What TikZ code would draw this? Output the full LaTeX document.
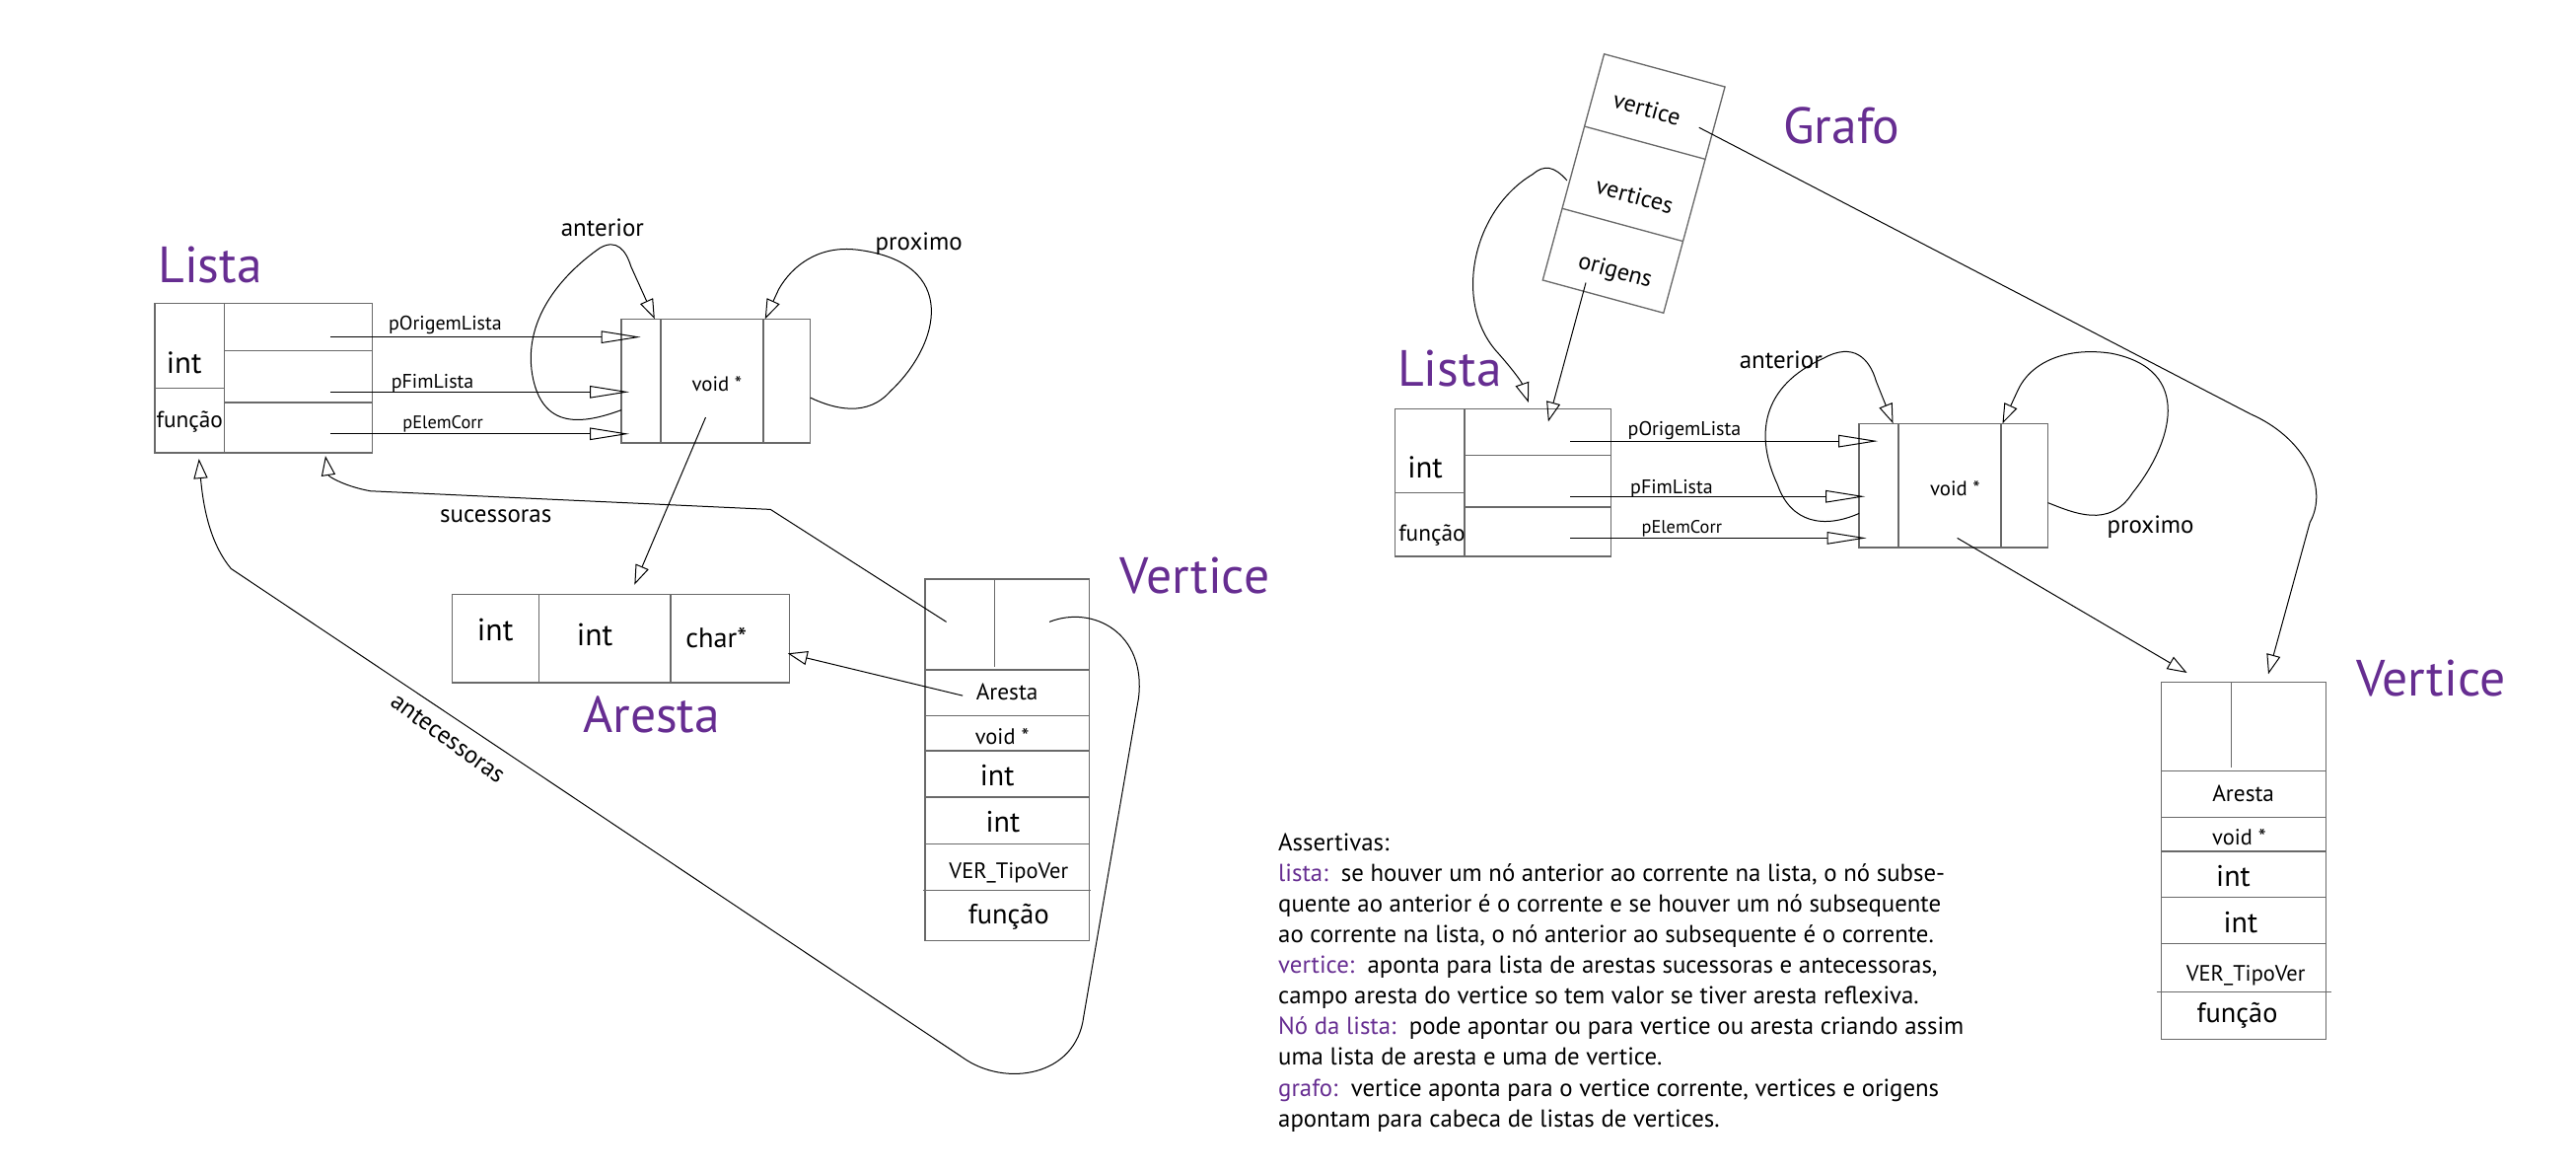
\documentclass[tikz,border=0pt]{standalone}
\usepackage{fontspec}
\setmainfont{PT Sans}
\usetikzlibrary{arrows.meta,calc}
\definecolor{purp}{RGB}{102,45,145}
\definecolor{boxgray}{RGB}{105,105,105}
\newcommand\fsz[1]{\fontsize{#1}{#1}\selectfont}
\begin{document}
\begin{tikzpicture}[x=1pt,y=-1pt,
  box/.style={draw=boxgray,line width=0.8pt,inner sep=0pt,outer sep=0pt},
  dv/.style={draw=boxgray,line width=0.8pt},
  conn/.style={draw=black,line width=0.6pt},
  longtip/.style={-{Triangle[open,length=24pt,width=7.5pt]}},
  shorttip/.style={-{Triangle[open,length=12pt,width=8.5pt]}},
  ttl/.style={text=purp,font=\fsz{31},inner sep=0pt,anchor=base},
  tx/.style={inner sep=0pt,anchor=base},
]
\useasboundingbox (0,0) rectangle (1568,713);

%================ LEFT =================
% Lista box
\node[box,minimum width=132.2pt,minimum height=90.9pt] (listaL) at (160.4,230.15) {};
\draw[dv] (136.6,184.7) -- (136.6,275.6);
\draw[dv] (94.3,236.3) -- (136.6,236.3);
\draw[dv] (136.6,213.5) -- (226.5,213.5);
\draw[dv] (136.6,245) -- (226.5,245);
\node[ttl] (tListaL) at (127.9,171.7) {Lista};
\node[tx,font=\fsz{18.5}] (lLint) at (112.1,227.1) {int};
\node[tx,font=\fsz{14}] (lLfun) at (115.4,260.1) {função};

% void box
\node[box,minimum width=115.1pt,minimum height=75.4pt] (voidL) at (435.75,231.8) {};
\draw[dv] (402.2,194.1) -- (402.2,269.5);
\draw[dv] (464.7,194.1) -- (464.7,269.5);
\node[tx,font=\fsz{12.5}] (vLtxt) at (436.4,238) {void *};

% arrows Lista -> void
\coordinate (lOa) at (201,205.1); \coordinate (lOb) at (390,205.1);
\coordinate (lFa) at (201,238.5); \coordinate (lFb) at (383,238.5);
\coordinate (lEa) at (201,264);   \coordinate (lEb) at (383,264);
\draw[conn,longtip] (lOa) -- (lOb);
\draw[conn,longtip] (lFa) -- (lFb);
\draw[conn,longtip] (lEa) -- (lEb);
\node[tx,font=\fsz{12}] (lOlab) at (271,201) {pOrigemLista};
\node[tx,font=\fsz{12}] (lFlab) at (263.3,236) {pFimLista};
\node[tx,font=\fsz{11}] (lElab) at (269.6,260.7) {pElemCorr};

% anterior / proximo loops
\coordinate (aLs) at (378.2,249.5); \coordinate (aLe) at (398.5,194.1);
\draw[conn,shorttip] (aLs) .. controls (355,258) and (330,262) .. (324,228)
  .. controls (318,192) and (345,165) .. (365,151)
  .. controls (375,145) and (381,152) .. (384,162) -- (aLe);
\node[tx,font=\fsz{15}] (antL) at (366.7,143.7) {anterior};
\coordinate (pLs) at (493.3,242); \coordinate (pLe) at (465.7,194.1);
\draw[conn,shorttip] (pLs) .. controls (508,249) and (528,254) .. (542,238)
  .. controls (572,210) and (585,160) .. (522,152)
  .. controls (498,149) and (482,162) .. (474,176) -- (pLe);
\node[tx,font=\fsz{15}] (proxL) at (559.3,152) {proximo};

% Aresta box
\node[box,minimum width=205.3pt,minimum height=53.8pt] (arestaB) at (377.75,388.6) {};
\draw[dv] (328,361.7) -- (328,415.5);
\draw[dv] (408.3,361.7) -- (408.3,415.5);
\node[tx,font=\fsz{19}] (aInt1) at (301.5,389.6) {int};
\node[tx,font=\fsz{19}] (aInt2) at (362,392.9) {int};
\node[tx,font=\fsz{17}] (aChar) at (436,394) {char*};
\node[ttl] (tAresta) at (396.6,445.6) {Aresta};
\coordinate (vLa) at (429.5,254); \coordinate (arT) at (386.2,355.8);
\draw[conn,shorttip] (vLa) -- (arT);

% Vertice box (left)
\node[box,minimum width=100.1pt,minimum height=220.2pt] (vertL) at (613.15,462.4) {};
\draw[dv] (605.4,352.3) -- (605.4,405.8);
\draw[dv] (563.1,407.6) -- (663.2,407.6);
\draw[dv] (563.1,435.7) -- (663.2,435.7);
\draw[dv] (563.1,456.8) -- (663.2,456.8);
\draw[dv] (563.1,485) -- (663.2,485);
\draw[dv] (563.1,513.6) -- (663.2,513.6);
\draw[dv] (562,541.9) -- (664,541.9);
\node[ttl] (tVertL) at (727.3,361) {Vertice};
\node[tx,font=\fsz{14}] (vLar) at (613,425.7) {Aresta};
\node[tx,font=\fsz{13.5}] (vLvo) at (610,453) {void *};
\node[tx,font=\fsz{18}] (vLi1) at (607,478) {int};
\node[tx,font=\fsz{18}] (vLi2) at (610.5,506.6) {int};
\node[tx,font=\fsz{13.5}] (vLver) at (614,534.5) {VER\_TipoVer};
\node[tx,font=\fsz{17}] (vLfun) at (614,562) {função};

% char* arrow
\coordinate (cS) at (586,423.3); \coordinate (cE) at (479.5,397.6);
\draw[conn,shorttip] (cS) -- (cE);

% sucessoras
\coordinate (sS) at (576,378.4); \coordinate (sE) at (198.1,277.4);
\draw[conn,shorttip] (sS) -- (469,310) -- (225.5,298.8)
  .. controls (210,296) and (200,290) .. (sE);
\node[tx,font=\fsz{15}] (sucLab) at (301.8,318) {sucessoras};

% antecessoras
\coordinate (anS) at (638.8,378.4); \coordinate (anE) at (121.1,279.2);
\draw[conn,shorttip] (anS) .. controls (665,368) and (698,385) .. (693,425)
  -- (659.6,618.6) .. controls (655,655) and (612,662) .. (586,643.5)
  -- (140.6,346) .. controls (129,332) and (124,312) .. (anE);
\node[inner sep=0pt,font=\fsz{15},rotate=-36] (antLab) at (272.6,449.3) {antecessoras};

%================ RIGHT =================
% Grafo
\node[box,minimum width=76.2pt,minimum height=142.6pt,rotate=-15.2] (grafo) at (994.5,111.65) {};
\draw[dv] ($(grafo.north west)!0.32!(grafo.south west)$) -- ($(grafo.north east)!0.32!(grafo.south east)$);
\draw[dv] ($(grafo.north west)!0.683!(grafo.south west)$) -- ($(grafo.north east)!0.683!(grafo.south east)$);
\node[inner sep=0pt,font=\fsz{14.5},rotate=-15.2] (gV1) at (1002.5,66) {vertice};
\node[inner sep=0pt,font=\fsz{14.5},rotate=-15.2] (gV2) at (995,119) {vertices};
\node[inner sep=0pt,font=\fsz{14.5},rotate=-15.2] (gV3) at (983,165.5) {origens};
\node[ttl] (tGrafo) at (1121,87.3) {Grafo};

% Lista box (right)
\node[box,minimum width=131.4pt,minimum height=89.8pt] (listaR) at (914.8,293.6) {};
\draw[dv] (891.4,248.7) -- (891.4,338.5);
\draw[dv] (849.1,299.7) -- (891.4,299.7);
\draw[dv] (891.4,277.2) -- (980.5,277.2);
\draw[dv] (891.4,308.5) -- (980.5,308.5);
\node[ttl] (tListaR) at (882.4,235.2) {Lista};
\node[tx,font=\fsz{18.5}] (lRint) at (867.5,290.9) {int};
\node[tx,font=\fsz{14}] (lRfun) at (871.6,329.5) {função};

% void box (right)
\node[box,minimum width=114.9pt,minimum height=75.5pt] (voidR) at (1189.05,295.45) {};
\draw[dv] (1155.5,257.7) -- (1155.5,333.2);
\draw[dv] (1218,257.7) -- (1218,333.2);
\node[tx,font=\fsz{12.5}] (vRtxt) at (1190,301.7) {void *};

\coordinate (rOa) at (955.7,268.4); \coordinate (rOb) at (1143.1,268.4);
\coordinate (rFa) at (955.7,302.1); \coordinate (rFb) at (1135.3,302.1);
\coordinate (rEa) at (955.7,327.4); \coordinate (rEb) at (1136.2,327.4);
\draw[conn,longtip] (rOa) -- (rOb);
\draw[conn,longtip] (rFa) -- (rFb);
\draw[conn,longtip] (rEa) -- (rEb);
\node[tx,font=\fsz{12}] (rOlab) at (1025.3,265) {pOrigemLista};
\node[tx,font=\fsz{12}] (rFlab) at (1017.5,300.6) {pFimLista};
\node[tx,font=\fsz{11}] (rElab) at (1023.7,324.2) {pElemCorr};

\coordinate (aRs) at (1131.6,312.4); \coordinate (aRe) at (1152.3,257.7);
\draw[conn,shorttip] (aRs) .. controls (1110,322) and (1090,318) .. (1082,295)
  .. controls (1068,265) and (1072,235) .. (1110,218)
  .. controls (1128,208) and (1138,218) .. (1142,232) -- (aRe);
\node[tx,font=\fsz{15}] (antR) at (1084,224.5) {anterior};
\coordinate (pRs) at (1246.5,305.9); \coordinate (pRe) at (1218.9,257.7);
\draw[conn,shorttip] (pRs) .. controls (1262,312) and (1284,322) .. (1298,300)
  .. controls (1322,270) and (1336,225) .. (1285,215)
  .. controls (1258,211) and (1236,220) .. (1228,238) -- (pRe);
\node[tx,font=\fsz{15}] (proxR) at (1309,324.2) {proximo};

% Grafo connectors
\coordinate (gvS) at (953.8,109.8); \coordinate (gvE) at (930.4,244.9);
\draw[conn,shorttip] (gvS) .. controls (946,101) and (940,100) .. (933,106)
  .. controls (896,128) and (884,185) .. (912,215)
  .. controls (920,224) and (926,232) .. (gvE);
\coordinate (goS) at (965.3,172); \coordinate (goE) at (942.4,256.6);
\draw[conn,shorttip] (goS) -- (goE);
\coordinate (gtS) at (1034.2,77.6); \coordinate (gtE) at (1380.7,410.2);
\draw[conn,shorttip] (gtS) -- (1370,252) .. controls (1402,266) and (1418,296) .. (1406,318) -- (gtE);

% Vertice box (right)
\node[box,minimum width=100.1pt,minimum height=217.2pt] (vertR) at (1365.75,523.8) {};
\draw[dv] (1358,415.2) -- (1358,467);
\draw[dv] (1315.7,469.2) -- (1415.8,469.2);
\draw[dv] (1315.7,497.4) -- (1415.8,497.4);
\draw[dv] (1315.7,518) -- (1415.8,518);
\draw[dv] (1315.7,546) -- (1415.8,546);
\draw[dv] (1315.7,574.3) -- (1415.8,574.3);
\draw[dv] (1313,603.7) -- (1419,603.7);
\node[ttl] (tVertR) at (1479.6,423.8) {Vertice};
\node[tx,font=\fsz{14}] (vRar) at (1365.5,487.5) {Aresta};
\node[tx,font=\fsz{13.5}] (vRvo) at (1363,514.3) {void *};
\node[tx,font=\fsz{18}] (vRi1) at (1359.4,539.3) {int};
\node[tx,font=\fsz{18}] (vRi2) at (1363.8,567.5) {int};
\node[tx,font=\fsz{13.5}] (vRver) at (1367,597) {VER\_TipoVer};
\node[tx,font=\fsz{17}] (vRfun) at (1361.8,622.5) {função};

\coordinate (vRa) at (1191.4,327.4); \coordinate (vRe) at (1331.2,409.4);
\draw[conn,shorttip] (vRa) -- (vRe);

% Assertivas
\node[anchor=north west,inner sep=0pt,align=left,font=\fontsize{14.9}{18.67}\selectfont] (assert) at (777.9,506.8) {Assertivas:\\
\textcolor{purp}{lista:}\ \ se houver um nó anterior ao corrente na lista, o nó subse-\\
quente ao anterior é o corrente e se houver um nó subsequente\\
ao corrente na lista, o nó anterior ao subsequente é o corrente.\\
\textcolor{purp}{vertice:}\ \ aponta para lista de arestas sucessoras e antecessoras,\\
campo aresta do vertice so tem valor se tiver aresta reflexiva.\\
\textcolor{purp}{Nó da lista:}\ \ pode apontar ou para vertice ou aresta criando assim\\
uma lista de aresta e uma de vertice.\\
\textcolor{purp}{grafo:}\ \ vertice aponta para o vertice corrente, vertices e origens\\
apontam para cabeca de listas de vertices.};
\end{tikzpicture}
\end{document}
